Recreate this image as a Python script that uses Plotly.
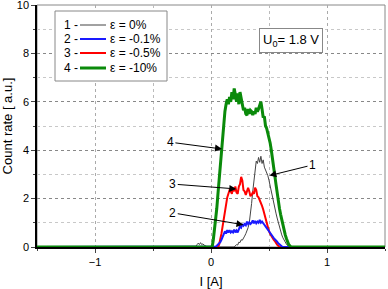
import plotly.graph_objects as go

# ---- data ----
x_green = [-1.5, 0.00, 0.01, 0.02, 0.03, 0.04, 0.05, 0.06, 0.07, 0.08, 0.09, 0.10,
           0.11, 0.12, 0.13, 0.14, 0.15, 0.16, 0.17, 0.18, 0.19, 0.20, 0.21, 0.22,
           0.23, 0.24, 0.25, 0.26, 0.27, 0.28, 0.29, 0.30, 0.31, 0.32, 0.33, 0.34,
           0.35, 0.36, 0.37, 0.38, 0.39, 0.40, 0.41, 0.42, 0.43, 0.44, 0.45, 0.46,
           0.47, 0.48, 0.49, 0.50, 0.51, 0.52, 0.53, 0.54, 0.55, 0.56, 0.57, 0.58,
           0.59, 0.60, 0.61, 0.62, 0.63, 0.64, 0.65, 0.66, 0.67, 0.68, 0.69, 1.5]
y_green = [0, 0, 0.0, 0.3, 0.7, 1.1, 1.6, 2.2, 2.8, 3.3, 3.8, 4.4,
           5.1, 5.6, 5.9, 6.1, 5.9, 6.2, 6.0, 6.4, 6.1, 6.55, 6.3, 6.0,
           6.35, 5.9, 6.4, 6.1, 5.8, 5.65, 5.75, 5.5, 5.45, 5.7, 5.5, 5.65,
           5.6, 5.45, 5.6, 5.5, 5.75, 5.6, 5.7, 5.85, 6.0, 5.7, 5.35, 5.4,
           5.0, 4.9, 4.7, 4.55, 4.3, 4.0, 3.7, 3.3, 2.95, 2.6, 2.2, 1.9,
           1.6, 1.35, 1.1, 0.85, 0.65, 0.5, 0.35, 0.2, 0.1, 0.05, 0, 0]

x_red = [-1.5, 0.06, 0.07, 0.08, 0.09, 0.10, 0.11, 0.12, 0.13, 0.14, 0.15, 0.16,
         0.17, 0.18, 0.19, 0.20, 0.21, 0.22, 0.23, 0.24, 0.25, 0.26, 0.27, 0.28,
         0.29, 0.30, 0.31, 0.32, 0.33, 0.34, 0.35, 0.36, 0.37, 0.38, 0.39, 0.40,
         0.41, 0.42, 0.43, 0.44, 0.45, 0.46, 0.47, 0.48, 0.49, 0.50, 0.51, 0.52,
         0.53, 0.54, 0.55, 0.56, 0.57, 0.58, 0.59, 1.5]
y_red = [0, 0, 0.1, 0.3, 0.55, 0.85, 1.2, 1.5, 1.8, 2.05, 2.2, 2.35,
         2.3, 2.2, 2.45, 2.3, 2.5, 2.25, 2.2, 2.5, 2.6, 2.9, 2.75, 2.35,
         2.3, 2.15, 2.3, 2.45, 2.3, 2.1, 2.15, 2.25, 2.2, 2.45, 2.35, 2.1,
         2.05, 1.95, 1.85, 1.7, 1.55, 1.35, 1.15, 0.95, 0.8, 0.65, 0.55, 0.45,
         0.4, 0.3, 0.25, 0.15, 0.1, 0.05, 0, 0]

x_blue = [-1.5, 0.03, 0.04, 0.05, 0.06, 0.07, 0.08, 0.09, 0.10, 0.11, 0.12, 0.13,
          0.14, 0.15, 0.16, 0.17, 0.18, 0.19, 0.20, 0.21, 0.22, 0.23, 0.24, 0.25,
          0.26, 0.27, 0.28, 0.29, 0.30, 0.31, 0.32, 0.33, 0.34, 0.35, 0.36, 0.37,
          0.38, 0.39, 0.40, 0.41, 0.42, 0.43, 0.44, 0.45, 0.46, 0.47, 0.48, 0.49,
          0.50, 0.51, 0.52, 0.53, 0.54, 0.55, 0.56, 0.57, 0.58, 0.59, 0.60, 0.61,
          0.62, 1.5]
y_blue = [0, 0, 0.02, 0.05, 0.1, 0.15, 0.2, 0.3, 0.4, 0.55, 0.65, 0.55,
          0.7, 0.6, 0.7, 0.6, 0.65, 0.6, 0.72, 0.6, 0.68, 0.6, 0.75, 0.85,
          0.8, 0.95, 0.88, 0.95, 0.9, 1.05, 0.95, 1.02, 0.95, 1.0, 1.1, 0.98,
          1.08, 0.98, 1.05, 1.0, 1.12, 1.0, 1.05, 0.95, 0.92, 0.85, 0.8, 0.72,
          0.65, 0.57, 0.5, 0.45, 0.38, 0.32, 0.28, 0.22, 0.15, 0.1, 0.06, 0.03,
          0, 0]

x_black = [-1.5, -0.15, -0.13, -0.12, -0.11, -0.10, -0.09, -0.08, -0.07, -0.06,
           -0.05, -0.04, -0.03, 0.20, 0.21, 0.22, 0.23, 0.24, 0.25, 0.26, 0.27,
           0.28, 0.29, 0.30, 0.31, 0.32, 0.33, 0.34, 0.35, 0.36, 0.37, 0.38, 0.39,
           0.40, 0.41, 0.42, 0.43, 0.44, 0.45, 0.46, 0.47, 0.48, 0.49, 0.50, 0.51,
           0.52, 0.53, 0.54, 0.55, 0.56, 0.57, 0.58, 0.59, 0.60, 0.61, 0.62, 0.63,
           0.64, 0.65, 0.66, 0.67, 0.68, 1.5]
y_black = [0, 0, 0.03, 0.1, 0.16, 0.1, 0.18, 0.1, 0.13, 0.08,
           0.05, 0.02, 0, 0, 0.05, 0.1, 0.08, 0.2, 0.18, 0.3, 0.28,
           0.4, 0.45, 0.55, 0.65, 0.8, 1.0, 1.35, 1.8, 2.3, 2.8, 3.2, 3.55,
           3.45, 3.7, 3.5, 3.75, 3.45, 3.6, 3.3, 3.2, 3.1, 2.95, 2.75, 2.5,
           2.3, 2.1, 1.9, 1.65, 1.4, 1.2, 1.0, 0.8, 0.65, 0.5, 0.38, 0.28,
           0.2, 0.12, 0.06, 0.02, 0, 0]

series_labels = ["ε = 0%", "ε = -0.1%", "ε = -0.5%", "ε = -10%"]
series_numbers = ["1 -", "2 -", "3 -", "4 -"]
series_colors = ["#444444", "#1a1aff", "#ff0000", "#0a8a0a"]
series_widths = [1, 2, 2, 3]

x_ticks = [-1, 0, 1]
y_ticks = [0, 2, 4, 6, 8, 10]

# callouts: label, label position (x, y), arrow head (x, y)
callout_labels = ["4", "3", "2", "1"]
callout_text_x = [-0.35, -0.33, -0.33, 0.875]
callout_text_y = [4.33, 2.6, 1.41, 3.39]
callout_head_x = [0.095, 0.218, 0.28, 0.503]
callout_head_y = [4.05, 2.40, 0.92, 2.95]

FONT = "Liberation Sans, Arial, sans-serif"

fig = go.Figure()
order = [0, 2, 1, 3]
xs = [x_black, x_blue, x_red, x_green]
ys = [y_black, y_blue, y_red, y_green]
for i in order:
    fig.add_trace(go.Scatter(x=xs[i], y=ys[i], mode="lines", name=series_labels[i],
                             line=dict(color=series_colors[i], width=series_widths[i]),
                             showlegend=False))

# callout arrows
for lab, tx, ty, hx, hy in zip(callout_labels, callout_text_x, callout_text_y,
                               callout_head_x, callout_head_y):
    fig.add_annotation(x=hx, y=hy, ax=tx, ay=ty, xref="x", yref="y", axref="x", ayref="y",
                       text=lab, showarrow=True, arrowhead=2, arrowsize=1.4, arrowwidth=1,
                       arrowcolor="black", font=dict(size=12, color="black", family=FONT))

# custom legend (paper coordinates)
L, R, T, B = 37, 385, 5, 247
def px(xp):
    return (xp - L) / (R - L)
def py(yp):
    return (B - yp) / (B - T)

fig.add_shape(type="rect", xref="paper", yref="paper", x0=px(55), x1=px(167), y0=py(81), y1=py(11),
              line=dict(color="#888888", width=1), fillcolor="white", layer="above")
rows = [25, 39, 53, 68]
for i, yr in enumerate(rows):
    fig.add_annotation(x=px(62), y=py(yr), xref="paper", yref="paper", text=series_numbers[i],
                       showarrow=False, xanchor="left", yanchor="middle",
                       font=dict(size=12, color="black", family=FONT))
    fig.add_shape(type="line", xref="paper", yref="paper", x0=px(80), x1=px(106), y0=py(yr), y1=py(yr),
                  line=dict(color=series_colors[i], width=series_widths[i]), layer="above")
    fig.add_annotation(x=px(108), y=py(yr), xref="paper", yref="paper", text=series_labels[i],
                       showarrow=False, xanchor="left", yanchor="middle",
                       font=dict(size=12, color="black", family=FONT))

fig.add_annotation(x=px(323), y=py(28.5), xref="paper", yref="paper",
                   text="U<sub>0</sub>= 1.8 V", showarrow=False,
                   font=dict(size=13, color="black", family=FONT),
                   bordercolor="#888888", borderwidth=1, borderpad=3, bgcolor="white")

# frame top/right
fig.add_shape(type="rect", xref="paper", yref="paper", x0=0, x1=1, y0=0, y1=1,
              line=dict(color="#888888", width=1), layer="below")

fig.update_layout(
    width=388, height=289,
    margin=dict(l=L, r=388 - R, t=T, b=289 - B, autoexpand=False),
    paper_bgcolor="white", plot_bgcolor="white",
    font=dict(family=FONT, size=11, color="black"),
    xaxis=dict(range=[-1.5, 1.5], tickvals=x_ticks, ticks="outside", ticklen=4,
               showline=True, linecolor="black", linewidth=1.5, layer="below traces",
               showgrid=True, gridcolor="#aaaaaa", griddash="dot", gridwidth=1,
               minor=dict(dtick=0.5, ticks="outside", ticklen=2, showgrid=True,
                          gridcolor="#bbbbbb", griddash="dot"),
               zeroline=False, ticklabeloverflow="allow",
               title=dict(text="I [A]", font=dict(size=13), standoff=12)),
    yaxis=dict(range=[0, 10], tickvals=y_ticks, ticks="outside", ticklen=4,
               showline=True, linecolor="black", linewidth=1.5, layer="below traces",
               showgrid=True, gridcolor="#888888", griddash="dot", gridwidth=1,
               minor=dict(dtick=1, ticks="outside", ticklen=2, showgrid=True,
                          gridcolor="#c8c8c8", griddash="dot"),
               zeroline=False, ticklabeloverflow="allow",
               title=dict(text="Count rate [ a.u.]", font=dict(size=13), standoff=5)),
)

fig.write_html("out.html", post_script="document.body.style.margin='0';",
               config={"displayModeBar": False})
